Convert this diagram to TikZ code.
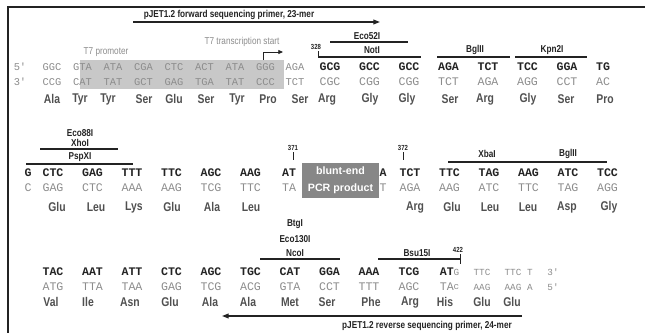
\documentclass[tikz,border=0pt]{standalone}
\usepackage{fontspec}
\setmainfont{Liberation Sans}
\newfontfamily\codfont{Liberation Mono}
\newfontfamily\narrowfont[FakeStretch=0.82]{Liberation Sans}
\usetikzlibrary{arrows.meta}
\definecolor{codcol}{RGB}{35,35,35}
\definecolor{greycol}{RGB}{140,140,140}
\definecolor{aacol}{RGB}{80,80,80}
\definecolor{boxcol}{RGB}{200,200,200}
\definecolor{pcrcol}{RGB}{135,135,135}

\tikzset{every picture/.style={line width=0.75pt}}
\tikzset{
  cod/.style={inner sep=0pt, text=codcol, font=\codfont\bfseries\fontsize{8.7}{9}\selectfont},
  gcod/.style={inner sep=0pt, text=greycol, font=\codfont\fontsize{8.7}{9}\selectfont},
  scod/.style={inner sep=0pt, text=greycol, font=\codfont\fontsize{7.8}{8}\selectfont},
  tcod/.style={inner sep=0pt, text=greycol, font=\codfont\fontsize{7}{8}\selectfont},
  aa/.style={inner sep=0pt, text=aacol, font=\narrowfont\bfseries\fontsize{9.5}{10}\selectfont},
  enz/.style={inner sep=0pt, text=codcol, font=\narrowfont\bfseries\fontsize{7.5}{8}\selectfont},
  posnum/.style={inner sep=0pt, text=codcol, font=\narrowfont\bfseries\fontsize{5.5}{6}\selectfont},
  note/.style={inner sep=0pt, text=greycol, font=\narrowfont\fontsize{7.5}{8}\selectfont},
  sitebar/.style={color=codcol, line width=0.9pt},
  primarrow/.style={color=codcol, line width=0.9pt, -{Triangle[length=5pt,width=3.6pt]}},
}

\begin{document}
\begin{tikzpicture}[x=0.75pt,y=0.75pt,yscale=-1,xscale=1]
\useasboundingbox (0,0) rectangle (645,333);

%Frame
\draw [color=codcol, line width=1.1pt] (645,7) -- (8,7) -- (8,333);

%Shape: T7 promoter box
\fill [boxcol] (80,60) rectangle (284,89);

% Forward primer
\node [enz] (fwd) at (229,15) {pJET1.2 forward sequencing primer, 23-mer};
\coordinate (fwdA) at (133,22);
\coordinate (fwdB) at (380,22);
\draw [primarrow] (fwdA) -- (fwdB);

% T7 labels
\node [note] (t7p) at (106,52) {T7 promoter};
\node [note] (t7s) at (242,42) {T7 transcription start};
\coordinate (t7a) at (263,60);
\coordinate (t7b) at (283,52);
\draw [color=codcol, line width=0.6pt, -{Triangle[length=3.5pt,width=3pt]}] (t7a) |- (t7b);

%%% Row 1
% Text Node
\node [scod] (r1p5) at (20,67) {5'};
\node [scod] (r1p3) at (20,82) {3'};
\foreach \x/\t [count=\i] in {52/GGC,82.5/GTA,113/ATA,143.5/CGA,174/CTC,204.5/ACT,235/ATA,265.5/GGG,295/AGA}
  \node [scod] (r1s-\i) at (\x,67) {\t};
\foreach \x/\t [count=\i] in {330/GCG,369.5/GCC,409/GCC,448.5/AGA,488/TCT,527.5/TCC,567/GGA,603/TG}
  \node [cod] (r1b-\i) at (\x,67) {\t};
\foreach \x/\t [count=\i] in {52/CCG,82.5/CAT,113/TAT,143.5/GCT,174/GAG,204.5/TGA,235/TAT,265.5/CCC,295/TCT}
  \node [scod] (r1c-\i) at (\x,82) {\t};
\foreach \x/\t [count=\i] in {330/CGC,369.5/CGG,409/CGG,448.5/TCT,488/AGA,527.5/AGG,567/CCT,603/AC}
  \node [gcod] (r1g-\i) at (\x,82) {\t};
\foreach \x/\t [count=\i] in {52/Ala,80/Tyr,108/Tyr,144/Ser,174/Glu,206/Ser,237/Tyr,268/Pro,300/Ser,327/Arg,370/Gly,407/Gly,450/Ser,485/Arg,528/Gly,566/Ser,605/Pro}
  \node [aa] (r1a-\i) at (\x,99) {\t};

% Sites row 1
\node [posnum] (n328) at (316,47) {328};
\draw [sitebar, line width=0.6pt] (318,51) -- (318,57);
\node [enz] (eco52) at (367,36) {Eco52I};
\draw [sitebar] (330,42) -- (408,42);
\node [enz] (not) at (372,50) {NotI};
\draw [sitebar] (318,57) -- (421,57);
\node [enz] (bgl1) at (475,50) {BglII};
\draw [sitebar] (437,57) -- (510,57);
\node [enz] (kpn) at (552,50) {Kpn2I};
\draw [sitebar] (515,57) -- (587,57);

%%% Row 2
\foreach \x/\t [count=\i] in {28/G,53/CTC,92.5/GAG,132/TTT,171.5/TTC,211/AGC,250.5/AAG,289/AT,383/A,410/TCT,449.5/TTC,489/TAG,528.5/AAG,568/ATC,607.5/TCC}
  \node [cod] (r2b-\i) at (\x,173) {\t};
\foreach \x/\t [count=\i] in {28/C,53/GAG,92.5/CTC,132/AAA,171.5/AAG,211/TCG,250.5/TTC,289/TA,383/T,410/AGA,449.5/AAG,489/ATC,528.5/TTC,568/TAG,607.5/AGG}
  \node [gcod] (r2g-\i) at (\x,188) {\t};
\foreach \x/\t [count=\i] in {57/Glu,96/Leu,134/Lys,172/Glu,212/Ala,251/Leu,415/Arg,452/Glu,490/Leu,528/Leu,567/Asp,609/Gly}
  \node [aa] (r2a-\i) at (\x,207) {\t};

% Sites row 2
\node [enz] (eco88) at (80,133) {Eco88I};
\node [enz] (xho) at (80,143) {XhoI};
\draw [sitebar] (40,149) -- (118,149);
\node [enz] (psp) at (80,157) {PspXI};
\draw [sitebar] (26,164) -- (133,164);
\node [posnum] (n371) at (293,148) {371};
\draw [sitebar, line width=0.6pt] (293,152) -- (293,160);
\node [posnum] (n372) at (403,148) {372};
\draw [sitebar, line width=0.6pt] (403,152) -- (403,160);
\node [enz] (xba) at (487,154) {XbaI};
\draw [sitebar] (448,162) -- (527,162);
\node [enz] (bgl2) at (568,154) {BglII};
\draw [sitebar] (527,162) -- (607,162);

%Shape: blunt-end PCR product
\fill [pcrcol] (302,163) rectangle (379,198);
\node [inner sep=0pt, text=white, align=center, font=\bfseries\fontsize{8}{12.5}\selectfont] (pcr) at (340.5,180.5) {blunt-end\\PCR product};

%%% Row 3
\foreach \x/\t [count=\i] in {53/TAC,92.5/AAT,132/ATT,171.5/CTC,211/AGC,250.5/TGC,290/CAT,329.5/GGA,369/AAA,409/TCG}
  \node [cod] (r3b-\i) at (\x,272) {\t};
\node [cod, anchor=west] (r3b-11) at (439.3,272) {AT};
\node [tcod, anchor=west] (r3t-1) at (453,272) {G};
\foreach \x/\t [count=\i] in {482/TTC,513/TTC,530/T,553/3'}
  \node [tcod] (r3t-\the\numexpr\i+1\relax) at (\x,272) {\t};
\foreach \x/\t [count=\i] in {53/ATG,92.5/TTA,132/TAA,171.5/GAG,211/TCG,250.5/ACG,290/GTA,329.5/CCT,369/TTT,409/AGC}
  \node [gcod] (r3g-\i) at (\x,287) {\t};
\node [gcod, anchor=west] (r3g-11) at (439.3,287) {TA};
\node [tcod, anchor=west] (r3u-1) at (453,287) {c};
\foreach \x/\t [count=\i] in {482/AAG,513/AAG,530/A,553/5'}
  \node [tcod] (r3u-\the\numexpr\i+1\relax) at (\x,287) {\t};
\foreach \x/\t [count=\i] in {51/Val,88/Ile,130/Asn,170/Glu,210/Ala,248/Ala,290/Met,327/Ser,371/Phe,410/Arg,445/His,482/Glu,512/Glu}
  \node [aa] (r3a-\i) at (\x,302) {\t};

% Sites row 3
\node [enz] (btg) at (295,224) {BtgI};
\node [enz] (eco130) at (295,239) {Eco130I};
\node [enz] (nco) at (295,253) {NcoI};
\draw [sitebar] (260,259) -- (340,259);
\node [enz] (bsu) at (417,253) {Bsu15I};
\draw [sitebar] (378,259) -- (460,259);
\node [posnum] (n422) at (458,250) {422};
\draw [sitebar, line width=0.6pt] (460,254) -- (460,264);

% Reverse primer
\coordinate (revA) at (522,316);
\coordinate (revB) at (222,316);
\draw [primarrow] (revA) -- (revB);
\node [enz] (rev) at (427,326) {pJET1.2 reverse sequencing primer, 24-mer};

\end{tikzpicture}
\end{document}
